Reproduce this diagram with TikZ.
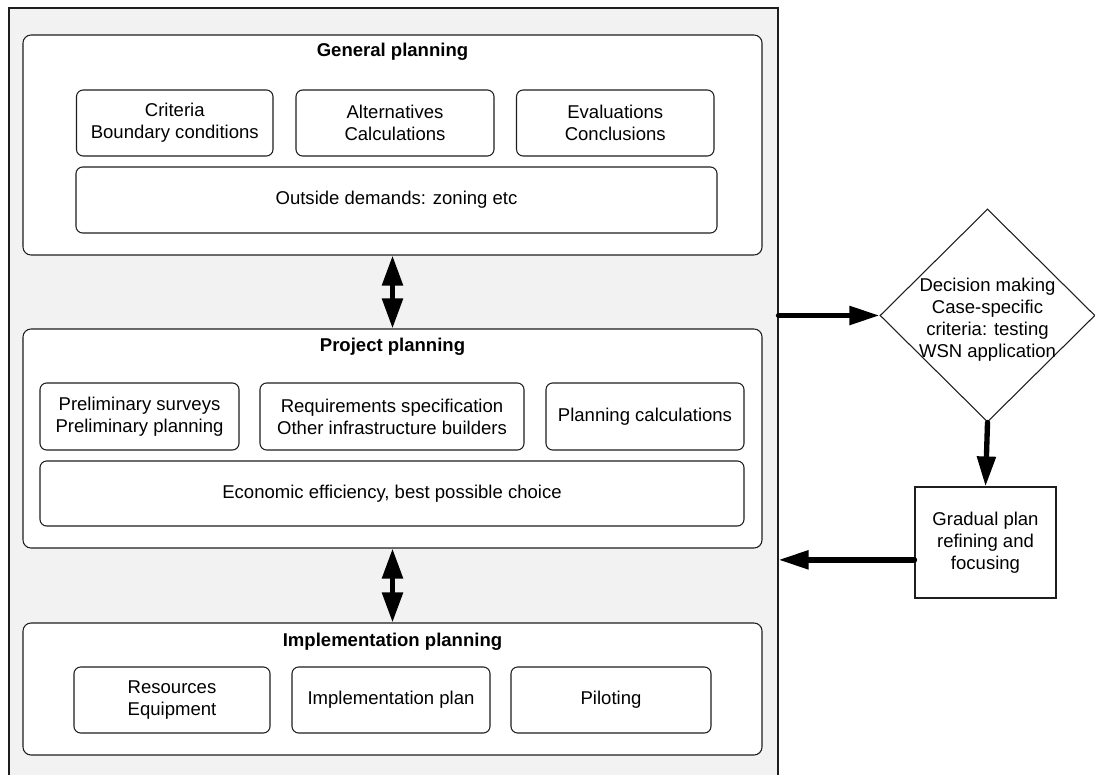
\documentclass[tikz,border=0pt]{standalone}
\usepackage{fontspec}
\setmainfont{Liberation Sans}
\usetikzlibrary{arrows.meta,shapes.geometric,calc}
\definecolor{panel}{RGB}{242,242,242}
\definecolor{edge}{RGB}{30,30,30}
\begin{document}
\begin{tikzpicture}[x=0.75pt,y=-0.75pt,
  every node/.style={font=\fontsize{13.9}{16.5}\selectfont, align=center},
  frame/.style={draw=edge, line width=0.8pt, fill=panel, inner sep=0pt},
  group/.style={draw=edge, line width=0.8pt, fill=white, rounded corners=6pt, inner sep=0pt},
  sub/.style={draw=edge, line width=0.8pt, fill=white, rounded corners=5pt, inner sep=0pt},
  title/.style={font=\fontsize{13.9}{16.5}\selectfont\bfseries},
  flow/.style={line width=4pt, line cap=round, -{Triangle[length=22.5pt,width=13.5pt]}},
  both/.style={line width=4pt, {Triangle[length=22.5pt,width=15pt]}-{Triangle[length=22.5pt,width=15pt]}}
]
\useasboundingbox (0,0) rectangle (1095,774);

% grey frame holding the three planning levels
\node[frame, minimum width=576.75pt, minimum height=579pt] (frame) at (393.5,394) {};

% general planning
\node[group, minimum width=554.25pt, minimum height=165pt] (gen) at (392.5,145) {};
\node[title] (gentitle) at (392.5,52) {General planning};
\node[sub, minimum width=147.4pt, minimum height=49.5pt] (crit) at (174.75,123) {Criteria\\Boundary conditions};
\node[sub, minimum width=148.5pt, minimum height=49.5pt] (alt) at (395,123) {Alternatives\\Calculations};
\node[sub, minimum width=148.1pt, minimum height=49.5pt] (eval) at (615.25,123) {Evaluations\\Conclusions};
\node[sub, minimum width=480.75pt, minimum height=49.5pt] (outd) at (396.5,200) {Outside demands: zoning etc};

% project planning
\node[group, minimum width=554.25pt, minimum height=164.25pt] (proj) at (392.5,438.5) {};
\node[title] (projtitle) at (392.5,347) {Project planning};
\node[sub, minimum width=149.25pt, minimum height=50.25pt] (prel) at (139.5,416.5) {Preliminary surveys\\Preliminary planning};
\node[sub, minimum width=198pt, minimum height=50.25pt] (req) at (392,416.5) {Requirements specification\\Other infrastructure builders};
\node[sub, minimum width=148.5pt, minimum height=50.25pt] (pcalc) at (645,416.5) {Planning calculations};
\node[sub, minimum width=528pt, minimum height=48.75pt] (econ) at (392,493.5) {Economic efficiency, best possible choice};

% implementation planning
\node[group, minimum width=554.25pt, minimum height=99pt] (impl) at (392.5,689) {};
\node[title] (impltitle) at (392.5,642) {Implementation planning};
\node[sub, minimum width=147pt, minimum height=49.5pt] (res) at (172,700) {Resources\\Equipment};
\node[sub, minimum width=148.5pt, minimum height=49.5pt] (iplan) at (391,700) {Implementation plan};
\node[sub, minimum width=150pt, minimum height=49.5pt] (pilot) at (611,700) {Piloting};

% decision loop on the right
\node[diamond, draw=edge, line width=0.8pt, fill=white, inner sep=0pt,
      minimum width=161.25pt, minimum height=159.75pt,
      label={[align=center, yshift=-3pt, font=\fontsize{13.9}{16.5}\selectfont]center:Decision making\\Case-specific\\criteria: testing\\WSN application}]
      (dec) at (987.5,315.5) {};
\node[draw=edge, line width=0.8pt, fill=white, inner sep=0pt,
      minimum width=105.75pt, minimum height=83.25pt] (grad) at (985.5,542.5) {Gradual plan\\refining and\\focusing};

% connectors
\draw[both] (gen.south) -- (proj.north);
\draw[both] (proj.south) -- (impl.north);
\draw[flow] (frame.east |- dec.west) -- (dec.west);
\draw[flow] (dec.south) -- (grad.north);
\coordinate (gradout) at ([yshift=-13pt]grad.west);
\draw[flow] (gradout) -- (gradout -| frame.east);
\end{tikzpicture}
\end{document}
